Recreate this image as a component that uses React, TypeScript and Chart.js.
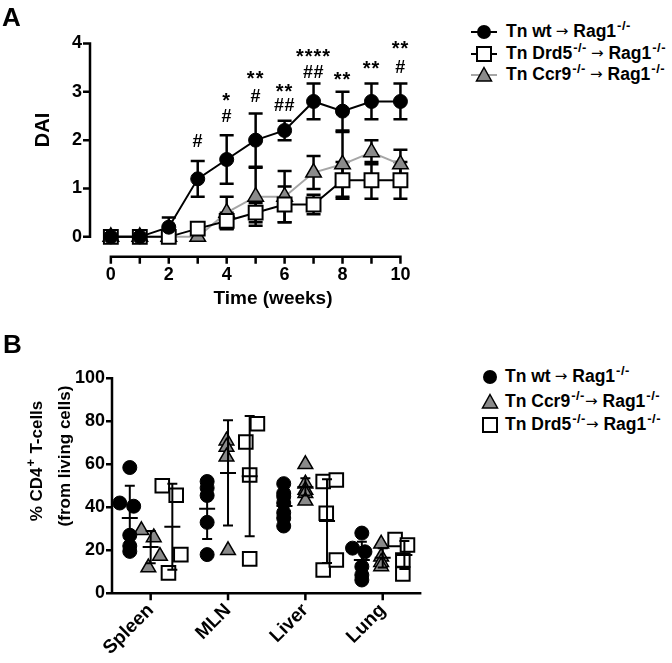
import React, { useEffect, useRef } from "react";
import { Chart, registerables } from "chart.js";

Chart.register(...registerables);

const FONT = "'Liberation Sans', Arial, Helvetica, sans-serif";

// ---------------- Panel A data ----------------
const weeks = [0, 1, 2, 3, 4, 5, 6, 7, 8, 9, 10];
const wtDai = [0, 0, 0.2, 1.2, 1.6, 2.0, 2.2, 2.8, 2.6, 2.8, 2.8];
const wtDaiErr = [0, 0, 0.2, 0.37, 0.5, 0.55, 0.2, 0.37, 0.4, 0.37, 0.37];
const drd5Dai = [0, 0, 0, 0.17, 0.33, 0.5, 0.67, 0.67, 1.17, 1.17, 1.17];
const drd5DaiErr = [0, 0, 0, 0.1, 0.17, 0.2, 0.37, 0.2, 0.38, 0.38, 0.38];
const ccr9Dai = [0, 0, 0, 0, 0.5, 0.83, 0.83, 1.33, 1.5, 1.75, 1.5];
const ccr9DaiErr = [0, 0, 0, 0, 0.33, 0.6, 0.53, 0.34, 0.67, 0.25, 0.3];
const weekTicks = [0, 1, 2, 3, 4, 5, 6, 7, 8, 9, 10];
const daiTicks = [0, 1, 2, 3, 4];

// significance marks (week, text, level in DAI units)
const markWeeks = [3, 4, 4, 5, 5, 6, 6, 7, 7, 8, 9, 10, 10];
const markTexts = ["#", "*", "#", "**", "#", "**", "##", "****", "##", "**", "**", "**", "#"];
const markLevels = [2.0, 2.93, 2.5, 3.38, 2.93, 3.1, 2.74, 3.83, 3.41, 3.36, 3.59, 3.99, 3.52];

// ---------------- Panel B data ----------------
const organs = ["Spleen", "MLN", "Liver", "Lung"];
const organPos = [1, 2, 3, 4];
const pctTicks = [0, 20, 40, 60, 80, 100];

const wtPct = [
  [42, 58.5, 40.5, 27, 22, 19.5],
  [52, 49, 45.5, 33, 18],
  [51, 46.5, 45, 42, 37.5, 35, 31.3],
  [28, 21, 19.3, 12.4, 8.5, 6.2],
];
const wtDx = [
  [-0.4, -0.27, -0.22, -0.27, -0.27, -0.27],
  [-0.27, -0.27, -0.27, -0.27, -0.27],
  [-0.28, -0.28, -0.28, -0.28, -0.28, -0.28, -0.28],
  [-0.27, -0.39, -0.23, -0.27, -0.27, -0.27],
];
const ccr9Pct = [
  [29.3, 26, 12, 17.3],
  [71, 68, 63.5, 20],
  [60, 51, 48, 46.5, 43],
  [23, 17, 14.5, 12.5],
];
const ccr9Dx = [
  [-0.12, 0.04, -0.03, 0.12],
  [-0.02, -0.02, -0.02, 0.0],
  [0, 0, 0, 0, 0],
  [-0.02, -0.02, -0.02, -0.02],
];
const drd5Pct = [
  [50, 45.6, 18, 9.5],
  [70.4, 78.9, 55, 16],
  [52, 52.7, 37.2, 10.8, 15.5],
  [25, 22.5, 15.5, 9],
];
const drd5Dx = [
  [0.15, 0.33, 0.39, 0.23],
  [0.23, 0.38, 0.28, 0.28],
  [0.23, 0.4, 0.27, 0.23, 0.4],
  [0.16, 0.32, 0.26, 0.26],
];
// group means and SD
const wtPctMean = [35, 39.3, 40.6, 15.5];
const wtPctSd = [15, 14, 6.5, 8.5];
const ccr9PctMean = [21.5, 56, 49.5, 16.5];
const ccr9PctSd = [7.5, 24.5, 4, 4.5];
const drd5PctMean = [31, 54.5, 33.6, 17.8];
const drd5PctSd = [20, 28, 19.5, 6.5];
const groupDx = [-0.27, 0, 0.28];

const TRI_GREY = "#8a8a8a";

// ---------------- plugins ----------------
const errorBarsA = {
  id: "errorBarsA",
  beforeDatasetsDraw(chart: any) {
    const { ctx, scales } = chart;
    const x = scales.x, y = scales.y;
    const sets = [
      [wtDai, wtDaiErr],
      [drd5Dai, drd5DaiErr],
      [ccr9Dai, ccr9DaiErr],
    ];
    ctx.save();
    ctx.strokeStyle = "#000";
    ctx.lineWidth = 2.5;
    for (let s = sets.length - 1; s >= 0; s--) {
      const [m, e] = sets[s];
      weeks.forEach((w, i) => {
        if (!e[i]) return;
        const px = x.getPixelForValue(w);
        const top = y.getPixelForValue(m[i] + e[i]);
        const bot = y.getPixelForValue(m[i] - e[i]);
        ctx.beginPath();
        ctx.moveTo(px, top);
        ctx.lineTo(px, bot);
        ctx.moveTo(px - 7, top);
        ctx.lineTo(px + 7, top);
        ctx.moveTo(px - 7, bot);
        ctx.lineTo(px + 7, bot);
        ctx.stroke();
      });
    }
    ctx.restore();
  },
};

const marksA = {
  id: "marksA",
  afterDatasetsDraw(chart: any) {
    const { ctx, scales } = chart;
    ctx.save();
    ctx.fillStyle = "#000";
    ctx.textAlign = "center";
    ctx.textBaseline = "alphabetic";
    markTexts.forEach((t, i) => {
      const px = scales.x.getPixelForValue(markWeeks[i]);
      const py = scales.y.getPixelForValue(markLevels[i]);
      const star = t.indexOf("*") >= 0;
      const fs = star ? 20 : 18;
      ctx.font = `bold ${fs}px ${FONT}`;
      (ctx as any).letterSpacing = star ? "1px" : "0.5px";
      ctx.fillText(t, px, py + (star ? 0.57 : 0.36) * fs);
    });
    ctx.restore();
  },
};

const axesA = {
  id: "axesA",
  afterDraw(chart: any) {
    const { ctx, chartArea, scales } = chart;
    const x = scales.x, y = scales.y;
    ctx.save();
    ctx.strokeStyle = "#000";
    ctx.lineWidth = 2.5;
    const xl = chartArea.left;
    const yb = chartArea.bottom;
    ctx.beginPath();
    ctx.moveTo(xl, y.getPixelForValue(daiTicks[0]) + 1.25);
    ctx.lineTo(xl, y.getPixelForValue(daiTicks[daiTicks.length - 1]) - 1.25);
    daiTicks.forEach((v) => {
      const py = y.getPixelForValue(v);
      ctx.moveTo(xl + 1.25, py);
      ctx.lineTo(xl - 7, py);
    });
    ctx.moveTo(x.getPixelForValue(weekTicks[0]) - 1.25, yb);
    ctx.lineTo(x.getPixelForValue(weekTicks[weekTicks.length - 1]) + 1.25, yb);
    weekTicks.forEach((v) => {
      const px = x.getPixelForValue(v);
      ctx.moveTo(px, yb - 1.25);
      ctx.lineTo(px, yb + 7);
    });
    ctx.stroke();
    ctx.restore();
  },
};

const barsB = {
  id: "barsB",
  afterDatasetsDraw(chart: any) {
    const { ctx, scales } = chart;
    const groups = [
      [wtPctMean, wtPctSd],
      [ccr9PctMean, ccr9PctSd],
      [drd5PctMean, drd5PctSd],
    ];
    ctx.save();
    ctx.strokeStyle = "#000";
    ctx.lineWidth = 2;
    groups.forEach(([m, sd], g) => {
      organPos.forEach((p, o) => {
        const px = scales.x.getPixelForValue(p + groupDx[g]);
        const pm = scales.y.getPixelForValue(m[o]);
        const top = scales.y.getPixelForValue(m[o] + sd[o]);
        const bot = scales.y.getPixelForValue(m[o] - sd[o]);
        ctx.beginPath();
        ctx.moveTo(px, top);
        ctx.lineTo(px, bot);
        ctx.moveTo(px - 5, top);
        ctx.lineTo(px + 5, top);
        ctx.moveTo(px - 5, bot);
        ctx.lineTo(px + 5, bot);
        ctx.moveTo(px - 8, pm);
        ctx.lineTo(px + 8, pm);
        ctx.stroke();
      });
    });
    ctx.restore();
  },
};

const axesB = {
  id: "axesB",
  afterDraw(chart: any) {
    const { ctx, chartArea, scales } = chart;
    const x = scales.x, y = scales.y;
    ctx.save();
    ctx.strokeStyle = "#000";
    ctx.lineWidth = 2.5;
    const xl = chartArea.left;
    const y0 = y.getPixelForValue(0);
    ctx.beginPath();
    ctx.moveTo(xl, y0 + 1.25);
    ctx.lineTo(xl, y.getPixelForValue(pctTicks[pctTicks.length - 1]) - 1.25);
    pctTicks.forEach((v) => {
      const py = y.getPixelForValue(v);
      ctx.moveTo(xl, py);
      ctx.lineTo(xl - 6, py);
    });
    ctx.moveTo(xl - 1.25, y0);
    ctx.lineTo(chartArea.right, y0);
    organPos.forEach((v) => {
      const px = x.getPixelForValue(v);
      ctx.moveTo(px, y0);
      ctx.lineTo(px, y0 + 7);
    });
    ctx.stroke();
    ctx.restore();
  },
};

const tickFont = { family: FONT, size: 18, weight: "bold" as const };

function configA(): any {
  const pts = (m: number[]) => weeks.map((w, i) => ({ x: w, y: m[i] }));
  return {
    type: "line",
    data: {
      datasets: [
        {
          label: "Tn wt → Rag1-/-",
          data: pts(wtDai),
          borderColor: "#000",
          borderWidth: 2,
          pointStyle: "circle",
          pointRadius: 7,
          pointBackgroundColor: "#000",
          pointBorderColor: "#000",
          pointBorderWidth: 1,
          tension: 0,
        },
        {
          label: "Tn Drd5-/- → Rag1-/-",
          data: pts(drd5Dai),
          borderColor: "#000",
          borderWidth: 2,
          pointStyle: "rect",
          pointRadius: 9.8,
          pointBackgroundColor: "#fff",
          pointBorderColor: "#000",
          pointBorderWidth: 2,
          tension: 0,
        },
        {
          label: "Tn Ccr9-/- → Rag1-/-",
          data: pts(ccr9Dai),
          borderColor: "#a6a6a6",
          borderWidth: 2,
          pointStyle: "triangle",
          pointRadius: 9,
          pointBackgroundColor: TRI_GREY,
          pointBorderColor: "#000",
          pointBorderWidth: 1.5,
          tension: 0,
        },
      ],
    },
    options: {
      animation: false,
      responsive: false,
      devicePixelRatio: 1,
      events: [],
      layout: { padding: { top: 41, left: 0, right: 0, bottom: 0 } },
      plugins: { legend: { display: false }, tooltip: { enabled: false }, title: { display: false } },
      scales: {
        x: {
          type: "linear",
          min: -0.72,
          max: 10.51,
          grid: { display: false, drawTicks: false },
          border: { display: false },
          afterBuildTicks: (s: any) => {
            s.ticks = weekTicks.map((v) => ({ value: v }));
          },
          afterFit: (s: any) => {
            s.height = 320 - 256.7;
          },
          ticks: {
            autoSkip: false,
            maxRotation: 0,
            padding: 8,
            color: "#000",
            font: tickFont,
            callback: (v: number) => (v % 2 === 0 ? String(v) : ""),
          },
        },
        y: {
          type: "linear",
          min: -0.41,
          max: 4.05,
          grid: { display: false, drawTicks: false },
          border: { display: false },
          afterBuildTicks: (s: any) => {
            s.ticks = daiTicks.map((v) => ({ value: v }));
          },
          afterFit: (s: any) => {
            s.width = 90;
          },
          ticks: { padding: 8, color: "#000", font: tickFont, callback: (v: number) => String(v) },
        },
      },
    },
    plugins: [errorBarsA, marksA, axesA],
  };
}

function configB(): any {
  const pts = (vals: number[][], dx: number[][]) =>
    vals.flatMap((arr, o) => arr.map((v, k) => ({ x: organPos[o] + dx[o][k], y: v })));
  return {
    type: "scatter",
    data: {
      datasets: [
        {
          label: "Tn wt → Rag1-/-",
          data: pts(wtPct, wtDx),
          pointStyle: "circle",
          pointRadius: 7,
          pointBackgroundColor: "#000",
          pointBorderColor: "#000",
          pointBorderWidth: 1,
        },
        {
          label: "Tn Ccr9-/-→ Rag1-/-",
          data: pts(ccr9Pct, ccr9Dx),
          pointStyle: "triangle",
          pointRadius: 8.5,
          pointBackgroundColor: TRI_GREY,
          pointBorderColor: "#000",
          pointBorderWidth: 1.5,
        },
        {
          label: "Tn Drd5-/-→ Rag1-/-",
          data: pts(drd5Pct, drd5Dx),
          pointStyle: "rect",
          pointRadius: 9.6,
          pointBackgroundColor: "#fff",
          pointBorderColor: "#000",
          pointBorderWidth: 2,
        },
      ],
    },
    options: {
      animation: false,
      responsive: false,
      devicePixelRatio: 1,
      events: [],
      layout: { padding: { top: 48.3, left: 0, right: 0, bottom: 0 } },
      plugins: { legend: { display: false }, tooltip: { enabled: false }, title: { display: false } },
      scales: {
        x: {
          type: "linear",
          min: 0.5,
          max: 4.5,
          grid: { display: false, drawTicks: false },
          border: { display: false },
          afterBuildTicks: (s: any) => {
            s.ticks = organPos.map((v) => ({ value: v }));
          },
          afterFit: (s: any) => {
            s.height = 333 - 263.3;
          },
          ticks: {
            autoSkip: false,
            minRotation: 45,
            maxRotation: 45,
            padding: 6,
            color: "#000",
            font: { family: FONT, size: 19, weight: "bold" },
            callback: (v: number) => organs[organPos.indexOf(v)] ?? "",
          },
        },
        y: {
          type: "linear",
          min: 0,
          max: 100,
          grid: { display: false, drawTicks: false },
          border: { display: false },
          afterBuildTicks: (s: any) => {
            s.ticks = pctTicks.map((v) => ({ value: v }));
          },
          afterFit: (s: any) => {
            s.width = 112;
          },
          ticks: { padding: 7, color: "#000", font: tickFont, callback: (v: number) => String(v) },
        },
      },
    },
    plugins: [barsB, axesB],
  };
}

// ---------------- HTML text helpers ----------------
const Sup = ({ t }: { t: string }) => (
  <span style={{ fontSize: 13, position: "relative", top: -7, marginLeft: 1, letterSpacing: 0.5 }}>{t}</span>
);
const Arrow = ({ l = 4 }: { l?: number }) => (
  <span
    style={{
      fontFamily: "'DejaVu Sans', sans-serif",
      fontSize: 15,
      fontWeight: "normal",
      margin: `0 5px 0 ${l}px`,
      position: "relative",
      top: -1,
    }}
  >
    →
  </span>
);

function Label({ x, y, size, children, rotate, center }: any) {
  return (
    <div
      style={{
        position: "absolute",
        left: x,
        top: y,
        fontSize: size,
        lineHeight: `${size}px`,
        whiteSpace: "nowrap",
        transform: rotate
          ? "translate(-50%, -50%) rotate(-90deg)"
          : center
          ? "translate(-50%, -50%)"
          : "translate(0, -50%)",
      }}
    >
      {children}
    </div>
  );
}

function Marker({ kind, line, lineColor }: any) {
  return (
    <svg width={30} height={20} style={{ position: "absolute", left: 0, top: 0 }}>
      {line && <line x1={2} y1={10} x2={28} y2={10} stroke={lineColor} strokeWidth={2} />}
      {kind === "circle" && <circle cx={15} cy={10} r={7} fill="#000" />}
      {kind === "square" && <rect x={8} y={3} width={14} height={14} fill="#fff" stroke="#000" strokeWidth={2} />}
      {kind === "triangle" && (
        <polygon points="15,2.5 22.5,16 7.5,16" fill={TRI_GREY} stroke="#000" strokeWidth={1.5} />
      )}
    </svg>
  );
}

function LegendMark({ cx, cy, kind, line, lineColor }: any) {
  return (
    <div style={{ position: "absolute", left: cx - 15, top: cy - 10, width: 30, height: 20 }}>
      <Marker kind={kind} line={line} lineColor={lineColor} />
    </div>
  );
}

export default function App() {
  const refA = useRef<HTMLCanvasElement>(null);
  const refB = useRef<HTMLCanvasElement>(null);

  useEffect(() => {
    const a = new Chart(refA.current as HTMLCanvasElement, configA());
    const b = new Chart(refB.current as HTMLCanvasElement, configB());
    return () => {
      a.destroy();
      b.destroy();
    };
  }, []);

  const legText = 17.5;

  return (
    <div
      style={{
        position: "absolute",
        left: 0,
        top: 0,
        width: 672,
        height: 663,
        background: "#fff",
        color: "#000",
        fontFamily: FONT,
        fontWeight: "bold",
        overflow: "hidden",
      }}
    >
      <canvas ref={refA} width={427} height={320} style={{ position: "absolute", left: 0, top: 0 }} />
      <canvas ref={refB} width={433} height={333} style={{ position: "absolute", left: 0, top: 330 }} />

      {/* panel letters */}
      <Label x={2} y={17} size={26}>A</Label>
      <Label x={3} y={344} size={26}>B</Label>

      {/* panel A axis titles */}
      <Label x={42} y={130} size={20} rotate>DAI</Label>
      <Label x={273} y={297} size={19} center>Time (weeks)</Label>

      {/* panel B axis title */}
      <Label x={37} y={461} size={17} rotate>
        % CD4<Sup t="+" /> T-cells
      </Label>
      <Label x={64} y={456} size={17} rotate>(from living cells)</Label>

      {/* legend A */}
      <LegendMark cx={484} cy={32} kind="circle" line lineColor="#000" />
      <LegendMark cx={484} cy={53.5} kind="square" line lineColor="#000" />
      <LegendMark cx={484} cy={75} kind="triangle" line lineColor="#a6a6a6" />
      <Label x={506} y={32} size={legText}>
        Tn wt<Arrow />Rag1<Sup t="-/-" />
      </Label>
      <Label x={506} y={53.5} size={legText}>
        Tn Drd5<Sup t="-/-" /><Arrow />Rag1<Sup t="-/-" />
      </Label>
      <Label x={506} y={75} size={legText}>
        Tn Ccr9<Sup t="-/-" /><Arrow />Rag1<Sup t="-/-" />
      </Label>

      {/* legend B */}
      <LegendMark cx={490} cy={377} kind="circle" />
      <LegendMark cx={490} cy={401.5} kind="triangle" />
      <LegendMark cx={490} cy={425} kind="square" />
      <Label x={505} y={377} size={legText}>
        Tn wt<Arrow />Rag1<Sup t="-/-" />
      </Label>
      <Label x={505} y={401.5} size={legText}>
        Tn Ccr9<Sup t="-/-" /><Arrow l={0} />Rag1<Sup t="-/-" />
      </Label>
      <Label x={505} y={425} size={legText}>
        Tn Drd5<Sup t="-/-" /><Arrow l={0} />Rag1<Sup t="-/-" />
      </Label>
    </div>
  );
}
